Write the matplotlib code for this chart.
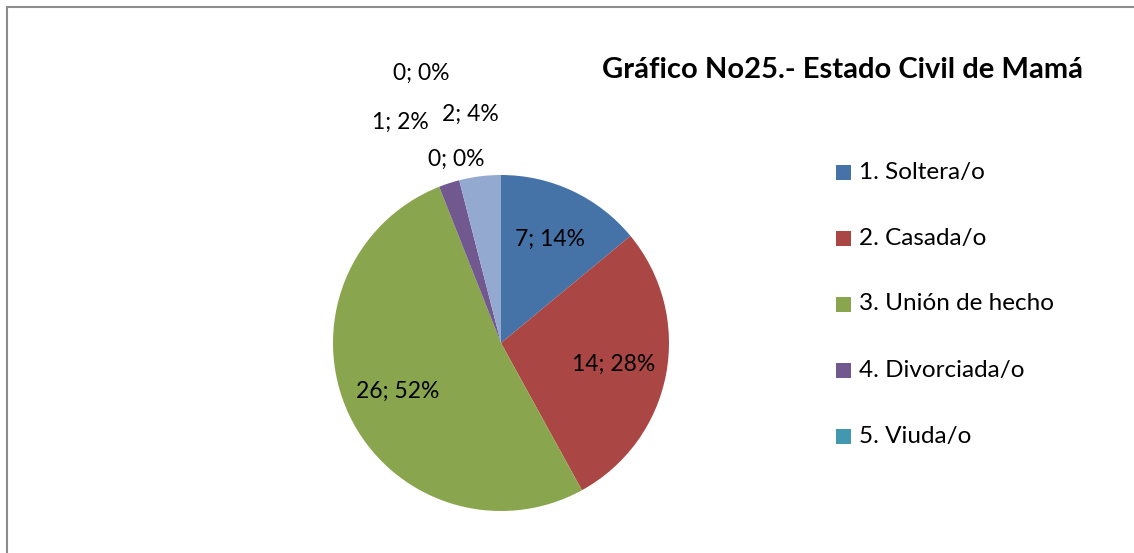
import numpy as np
import matplotlib
matplotlib.use("Agg")
import matplotlib.pyplot as plt
from matplotlib.patches import Rectangle

# Datos del gráfico
categorias = ['1. Soltera/o', '2. Casada/o', '3. Unión de hecho', '4. Divorciada/o',
              '5. Viuda/o', '6. Separada/o', '7. Otros']
valores = [7, 14, 26, 1, 0, 0, 2]
porcentajes = [14, 28, 52, 2, 0, 0, 4]
titulo = 'Gráfico No25.- Estado Civil de Mamá'

colores = ['#4572A7', '#AA4643', '#89A54E', '#71588F', '#4198AF', '#DB843D', '#93A9CF']

plt.rcParams['font.family'] = ['Lato', 'DejaVu Sans']

fig = plt.figure(figsize=(11.34, 5.53), dpi=100)
W, H = 1134, 553

# Marco gris del gráfico (recortado a la derecha y abajo)
fig.patches.append(Rectangle((7 / W, -0.05), 1.2, (H - 7) / H + 0.05, transform=fig.transFigure,
                             fill=False, edgecolor='#8c8c8c', linewidth=1.5))

# Eje del pastel: centro (501, 343), radio 168 px
r = 168
ax = fig.add_axes([(501 - r) / W, (H - 343 - r) / H, 2 * r / W, 2 * r / H])
wedges, _ = ax.pie(valores, colors=colores, startangle=90, counterclock=False,
                   radius=1, wedgeprops=dict(linewidth=0))
ax.set_xlim(-1, 1)
ax.set_ylim(-1, 1)
ax.set_aspect('equal')
ax.axis('off')

# Etiquetas de datos
fuera = {3: (-0.60, 1.315), 4: (-0.476, 1.607), 5: (-0.268, 1.095), 6: (-0.185, 1.364)}
for i, w in enumerate(wedges):
    texto = f'{valores[i]}; {porcentajes[i]}%'
    if i in fuera:
        x, y = fuera[i]
    else:
        ang = np.deg2rad((w.theta1 + w.theta2) / 2)
        x, y = 0.68 * np.cos(ang), 0.68 * np.sin(ang)
    ax.text(x, y, texto, ha='center', va='center', fontsize=16.5, color='black', clip_on=False)

# Título
fig.text(842 / W, 1 - 70 / H, titulo, ha='center', va='center', fontsize=21,
         fontweight='bold', color='black')

# Leyenda (solo se ven las cinco primeras)
for k in range(5):
    y = 172 + 66 * k
    fig.patches.append(Rectangle((836 / W, 1 - (y + 7.5) / H), 15 / W, 15 / H,
                                 transform=fig.transFigure, facecolor=colores[k], edgecolor='none'))
    fig.text(859 / W, 1 - y / H, categorias[k], ha='left', va='center', fontsize=17.5, color='black')

plt.savefig('out.png', dpi=100)
